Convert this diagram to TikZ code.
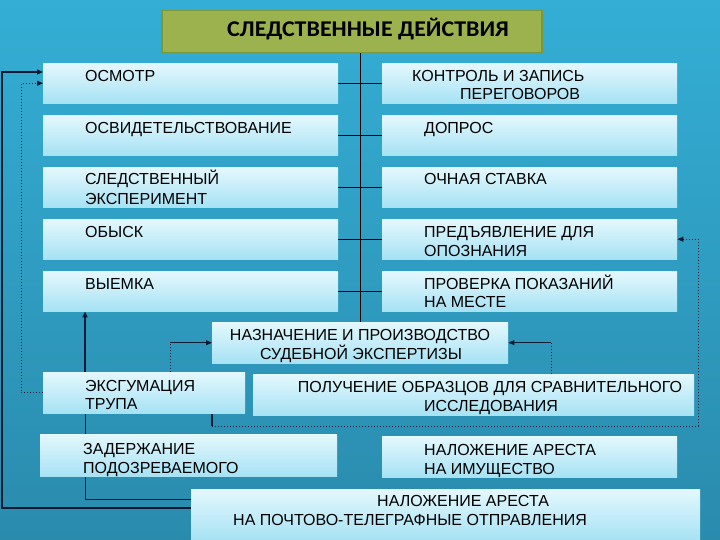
\documentclass[tikz,border=0pt]{standalone}
\usepackage{fontspec}
\setmainfont{Liberation Sans}
\newfontfamily\titlefont[FakeStretch=1.065]{Carlito}
\usetikzlibrary{arrows.meta}
\definecolor{bgtop}{HTML}{34AED5}
\definecolor{bgbot}{HTML}{2A8BAD}
\definecolor{boxtop}{HTML}{E4F8FD}
\definecolor{boxbot}{HTML}{A6E2F4}
\definecolor{titlefill}{HTML}{9CB24E}
\definecolor{titleedge}{HTML}{7C973A}
\definecolor{linecol}{HTML}{0A1A33}
\pgfdeclarelayer{bglayer}
\pgfdeclarelayer{linelayer}
\pgfsetlayers{bglayer,linelayer,main}
\begin{document}
\begin{tikzpicture}[x=1pt,y=-1pt,
  box/.style={rectangle, inner sep=0, anchor=north west, top color=boxtop, bottom color=boxbot, draw=none},
  txt/.style={inner sep=0, anchor=base west, font=\fontsize{16}{18}\selectfont, text=black},
  ctxt/.style={txt, anchor=base},
  conn/.style={draw=linecol, line width=1.2pt},
  dots/.style={draw=linecol, line width=1pt, dotted},
  tree/.style={draw=black, line width=0.9pt},
  tip/.style={-{Triangle[length=6pt,width=5pt]}}]
\useasboundingbox (0,0) rectangle (720,540);
\begin{pgfonlayer}{bglayer}
  \fill[top color=bgtop, bottom color=bgbot] (0,0) rectangle (720,540);
\end{pgfonlayer}

% title
\node[rectangle, anchor=north west, minimum width=380pt, minimum height=42pt, fill=titlefill, draw=titleedge, line width=1.5pt] (title) at (161,10) {};
\node[inner sep=0, anchor=base, font=\titlefont\bfseries\fontsize{22.5}{26}\selectfont] (ttl) at (368,37) {СЛЕДСТВЕННЫЕ ДЕЙСТВИЯ};

% left column
\node[box, minimum width=295pt, minimum height=40pt] (osm) at (43,63) {};
\node[box, minimum width=295pt, minimum height=40pt] (osv) at (43,115) {};
\node[box, minimum width=295pt, minimum height=40pt] (sle) at (43,167) {};
\node[box, minimum width=295pt, minimum height=40pt] (obs) at (43,219) {};
\node[box, minimum width=295pt, minimum height=40pt] (vye) at (43,271) {};
% right column
\node[box, minimum width=295pt, minimum height=40pt] (kon) at (382,63) {};
\node[box, minimum width=295pt, minimum height=40pt] (dop) at (382,115) {};
\node[box, minimum width=295pt, minimum height=40pt] (och) at (382,167) {};
\node[box, minimum width=295pt, minimum height=40pt] (pre) at (382,219) {};
\node[box, minimum width=295pt, minimum height=40pt] (pro) at (382,271) {};
% lower boxes
\node[box, minimum width=296pt, minimum height=41pt] (naz) at (212,322) {};
\node[box, minimum width=202pt, minimum height=41pt] (exh) at (43,372) {};
\node[box, minimum width=441pt, minimum height=41pt] (pol) at (253,374) {};
\node[box, minimum width=297pt, minimum height=42pt] (zad) at (40,434) {};
\node[box, minimum width=295pt, minimum height=41pt] (nim) at (382,436) {};
\node[box, minimum width=509pt, minimum height=51pt] (poc) at (191,489) {};

% texts
\node[txt] (t1) at (85,82) {ОСМОТР};
\node[txt] (t2) at (85,134) {ОСВИДЕТЕЛЬСТВОВАНИЕ};
\node[txt] (t3a) at (85,185) {СЛЕДСТВЕННЫЙ};
\node[txt] (t3b) at (85,205) {ЭКСПЕРИМЕНТ};
\node[txt] (t4) at (85,237) {ОБЫСК};
\node[txt] (t5) at (85,289) {ВЫЕМКА};
\node[txt] (t6a) at (412,82) {КОНТРОЛЬ И ЗАПИСЬ};
\node[txt] (t6b) at (460,100) {ПЕРЕГОВОРОВ};
\node[txt] (t7) at (424,134) {ДОПРОС};
\node[txt] (t8) at (424,185) {ОЧНАЯ СТАВКА};
\node[txt] (t9a) at (424,237) {ПРЕДЪЯВЛЕНИЕ ДЛЯ};
\node[txt] (t9b) at (424,256) {ОПОЗНАНИЯ};
\node[txt] (t10a) at (424,289) {ПРОВЕРКА ПОКАЗАНИЙ};
\node[txt] (t10b) at (424,307) {НА МЕСТЕ};
\node[ctxt] (t11a) at (360,340) {НАЗНАЧЕНИЕ И ПРОИЗВОДСТВО};
\node[ctxt] (t11b) at (361,359) {СУДЕБНОЙ ЭКСПЕРТИЗЫ};
\node[txt] (t12a) at (85,391) {ЭКСГУМАЦИЯ};
\node[txt] (t12b) at (85,409) {ТРУПА};
\node[ctxt] (t13a) at (490,392) {ПОЛУЧЕНИЕ ОБРАЗЦОВ ДЛЯ СРАВНИТЕЛЬНОГО};
\node[ctxt] (t13b) at (491,411) {ИССЛЕДОВАНИЯ};
\node[txt] (t14a) at (83,454) {ЗАДЕРЖАНИЕ};
\node[txt] (t14b) at (83,473) {ПОДОЗРЕВАЕМОГО};
\node[txt] (t15a) at (424,455) {НАЛОЖЕНИЕ АРЕСТА};
\node[txt] (t15b) at (424,474) {НА ИМУЩЕСТВО};
\node[txt] (t16a) at (377,506) {НАЛОЖЕНИЕ АРЕСТА};
\node[txt] (t16b) at (233,525) {НА ПОЧТОВО-ТЕЛЕГРАФНЫЕ ОТПРАВЛЕНИЯ};

% connectors
\coordinate (lft) at (2,300);
\coordinate (dl) at (21,300);
\coordinate (rb) at (698,426);
\begin{pgfonlayer}{linelayer}
  % tree
  \draw[tree] (title.south -| naz.north) -- (naz.north);
  \draw[tree] (osm.east) -- (kon.west);
  \draw[tree] (osv.east) -- (dop.west);
  \draw[tree] (sle.east) -- (och.west);
  \draw[tree] (obs.east) -- (pre.west);
  \draw[tree] (vye.east) -- (pro.west);
  % outer solid loop
  \draw[conn, tip] ([shift={(0,19)}]poc.north west) -| (lft) |- ([shift={(0,9)}]osm.north west);
  % dotted from exhumation to osmotr
  \draw[dots, tip] (exh.west) -| (dl) |- (osm.west);
  % from bottom box up to vyemka
  \draw[conn, line width=1pt] ([shift={(0,10)}]poc.north west) -| ([shift={(42,0)}]exh.south west);
  \draw[conn, line width=2pt, tip] ([shift={(42,0)}]exh.north west) -- ([shift={(42,0)}]vye.south west);
  % to naznachenie
  \draw[dots] ([shift={(127,0)}]exh.north west) -- ([shift={(127,0)}]exh.north west |- naz.west);
  \draw[conn, line width=1pt, tip] ([shift={(127,0)}]exh.north west |- naz.west) -- (naz.west);
  \draw[dots] ([shift={(298,0)}]pol.north west) -- ([shift={(298,0)}]pol.north west |- naz.east);
  \draw[conn, line width=1pt, tip] ([shift={(298,0)}]pol.north west |- naz.east) -- (naz.east);
  % to predyavlenie
  \draw[conn, line width=1.5pt] ([shift={(169,0)}]exh.south west) -- ([shift={(169,0)}]exh.south west |- rb);
  \draw[dots, tip] ([shift={(169,0)}]exh.south west |- rb) -- (rb) |- (pre.east);
\end{pgfonlayer}
\end{tikzpicture}
\end{document}
